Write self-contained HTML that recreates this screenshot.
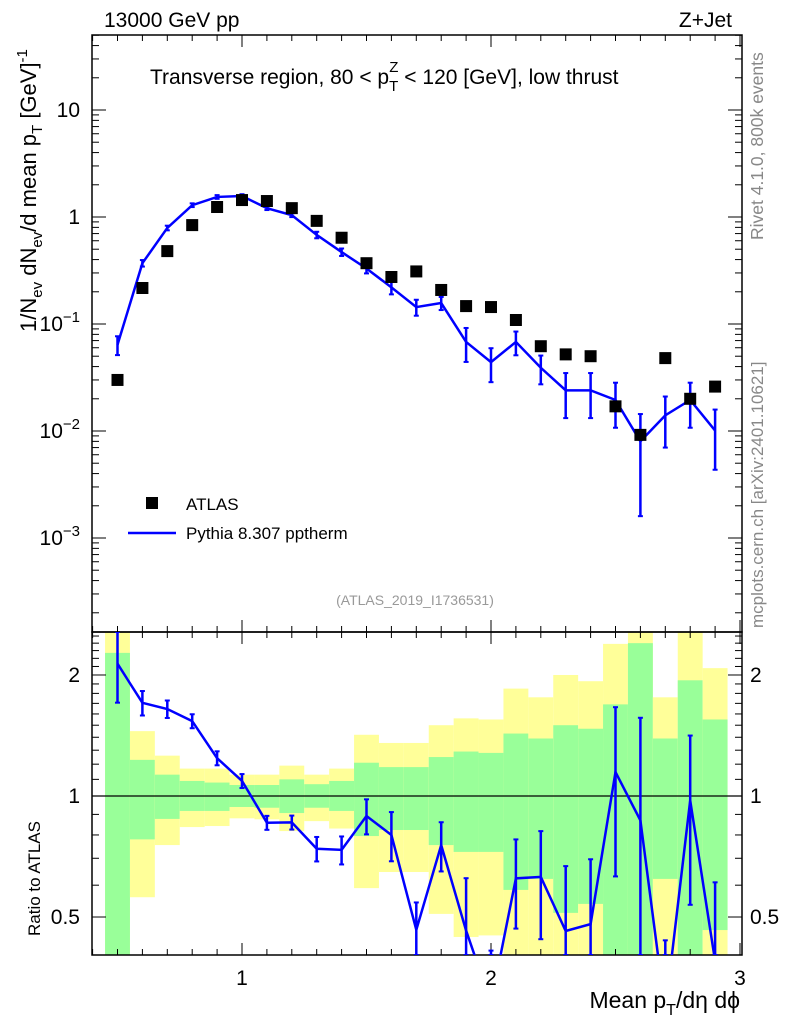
<!DOCTYPE html>
<html><head><meta charset="utf-8"><style>
html,body{margin:0;background:#fff;overflow:hidden;width:786px;height:1024px}
svg{display:block;font-family:"Liberation Sans",sans-serif}
</style></head><body>
<div style="position:relative;width:786px;height:1024px;overflow:hidden">
<svg id="c" width="786" height="1024" viewBox="0 0 786 1024" style="position:absolute;left:0;top:0"></svg>
<svg width="786" height="1024" style="position:absolute;left:0;top:0;font-family:'Liberation Sans',sans-serif">
<text x="104" y="27" font-size="21">13000 GeV pp</text>
<text x="732" y="27" font-size="21" text-anchor="end">Z+Jet</text>
<text x="150" y="84" font-size="21">Transverse region, 80 &lt; p<tspan dy="7" font-size="15">T</tspan><tspan dy="-19" dx="-9" font-size="15">Z</tspan><tspan dy="12"> &lt; 120 [GeV], low thrust</tspan></text>
<g transform="translate(36,332) rotate(-90)"><text x="0" y="0" font-size="22">1/N<tspan dy="6" font-size="15">ev</tspan><tspan dy="-6"> dN</tspan><tspan dy="6" font-size="15">ev</tspan><tspan dy="-6">/d mean p</tspan><tspan dy="6" font-size="15">T</tspan><tspan dy="-6"> [GeV]</tspan><tspan dy="-9" font-size="15">-1</tspan></text></g>
<g transform="translate(40,936) rotate(-90)"><text x="0" y="0" font-size="17">Ratio to ATLAS</text></g>
<text x="740" y="1008" font-size="23" text-anchor="end">Mean p<tspan dy="7" font-size="16">T</tspan><tspan dy="-7">/dη dϕ</tspan></text>
<g transform="translate(763,240) rotate(-90)"><text font-size="17.5" fill="#888">Rivet 4.1.0,  800k events</text></g>
<g transform="translate(763,628) rotate(-90)"><text font-size="17" fill="#888">mcplots.cern.ch [arXiv:2401.10621]</text></g>
<text x="415" y="605" font-size="14" fill="#999" text-anchor="middle">(ATLAS_2019_I1736531)</text>
<rect x="146" y="497" width="12" height="12" fill="#000"/>
<text x="186" y="510" font-size="17">ATLAS</text>
<line x1="128" x2="176" y1="533" y2="533" stroke="#0000ff" stroke-width="2.5"/>
<text x="186" y="539" font-size="17">Pythia 8.307 pptherm</text>
</svg>
</div>
<script>
const xs=[0.5,0.6,0.7,0.8,0.9,1.0,1.1,1.2,1.3,1.4,1.5,1.6,1.7,1.8,1.9,2.0,2.1,2.2,2.3,2.4,2.5,2.6,2.7,2.8,2.9];
const atlas=[0.030,0.217,0.48,0.84,1.24,1.44,1.41,1.21,0.92,0.64,0.37,0.275,0.31,0.208,0.147,0.144,0.109,0.062,0.052,0.050,0.017,0.0092,0.048,0.020,0.026];
const pythia=[0.064,0.37,0.79,1.29,1.54,1.57,1.21,1.04,0.68,0.47,0.33,0.22,0.144,0.157,0.068,0.044,0.068,0.039,0.024,0.024,0.0195,0.0080,0.014,0.0195,0.0101];
const pyErr=[0.2,0.07,0.05,0.04,0.04,0.04,0.04,0.04,0.07,0.08,0.1,0.14,0.17,0.14,0.35,0.35,0.25,0.3,0.45,0.45,0.45,0.8,0.5,0.45,0.57];
const yUp=[3,1.45,1.26,1.17,1.17,1.13,1.13,1.19,1.13,1.17,1.42,1.355,1.355,1.50,1.56,1.55,1.85,1.76,2.0,1.93,2.39,3,1.76,3,2.08];
const gUp=[2.27,1.23,1.13,1.09,1.08,1.065,1.065,1.10,1.07,1.09,1.21,1.18,1.18,1.25,1.29,1.28,1.43,1.39,1.50,1.47,1.69,2.40,1.39,1.94,1.55];
const gDn=[0.3,0.78,0.877,0.918,0.918,0.939,0.935,0.907,0.935,0.918,0.795,0.823,0.823,0.755,0.726,0.726,0.584,0.622,0.512,0.539,0.3,0.3,0.622,0.3,0.464];
const yDn=[0.3,0.56,0.755,0.837,0.842,0.88,0.875,0.818,0.866,0.83,0.59,0.647,0.647,0.509,0.446,0.45,0.3,0.3,0.3,0.3,0.3,0.3,0.3,0.3,0.3];
const mainTicks=[1,0,-1,-2,-3];
const ratioTicks=[2,1,0.5];
const xTicks=[1,2,3];

const NS="http://www.w3.org/2000/svg",svg=document.getElementById('c');
const L=92,R=742,T=35,MB=632,RB=955;
const X=v=>242+(v-1)*249;
const Y=v=>217-Math.log10(v)*107;
const YR=v=>796-Math.log10(v)*402;
const cl=(y,a,b)=>Math.max(a,Math.min(b,y));
function el(t,a,p){const e=document.createElementNS(NS,t);for(const k in a)e.setAttribute(k,a[k]);(p||svg).appendChild(e);return e;}
function txt(x,y,s,a){const e=el('text',Object.assign({x:x,y:y},a||{}));e.innerHTML=s;return e;}
const clipM=el('clipPath',{id:'cm'});el('rect',{x:L,y:T,width:R-L,height:MB-T},clipM);
const clipR=el('clipPath',{id:'cr'});el('rect',{x:L,y:MB,width:R-L,height:RB-MB},clipR);

const gb=el('g',{'clip-path':'url(#cr)'});


xs.forEach((v,i)=>{
  const x0=X(v-0.05),w=X(v+0.05)-x0;
  const yt=cl(YR(yUp[i]),MB,RB),yb=cl(YR(yDn[i]),MB,RB);
  const y=el('rect',{x:x0,y:yt,width:w,height:yb-yt,fill:'#ffff99'},gb);
  
  
  const gt=cl(YR(gUp[i]),MB,RB),gbb=cl(YR(gDn[i]),MB,RB);
  const g=el('rect',{x:x0,y:gt,width:w,height:gbb-gt,fill:'#99ff99'},gb);
  
  
});
el('line',{x1:L,x2:R,y1:YR(1),y2:YR(1),stroke:'#000','stroke-width':1.2});

el('rect',{x:L,y:T,width:R-L,height:MB-T,fill:'none',stroke:'#000','stroke-width':1.5,});
el('rect',{x:L,y:MB,width:R-L,height:RB-MB,fill:'none',stroke:'#000','stroke-width':1.5,});

for(let k=4;k<=30;k++){const v=k/10,x=X(v),maj=(k%10==0),len=maj?12:6;
  [[T,1],[MB,-1],[MB,1],[RB,-1]].forEach(([y0,d])=>el('line',{x1:x,x2:x,y1:y0,y2:y0+d*len,stroke:'#000','stroke-width':1}));}
xTicks.forEach(v=>{const t=txt(X(v),985,String(v),{'font-size':21,'text-anchor':'middle'});
  });
for(let d=-4;d<=1;d++)for(let m=1;m<=9;m++){const v=m*Math.pow(10,d);const y=Y(v);if(y<T||y>MB)continue;const len=m==1?14:7;
  el('line',{x1:L,x2:L+len,y1:y,y2:y,stroke:'#000'});el('line',{x1:R,x2:R-len,y1:y,y2:y,stroke:'#000'});}
mainTicks.forEach(p=>{const y=Y(Math.pow(10,p))+7;let t;
  if(p==1)t=txt(80,y,'10',{'font-size':21,'text-anchor':'end'});
  else if(p==0)t=txt(80,y,'1',{'font-size':21,'text-anchor':'end'});
  else t=txt(80,y,'10<tspan dy="-9" font-size="15">'+(p==-1?'−1':p==-2?'−2':'−3')+'</tspan>',{'font-size':21,'text-anchor':'end'});
  });
for(let v=0.4;v<=2.6;v+=0.1){const vv=Math.round(v*10)/10,y=YR(vv);if(y<MB||y>RB)continue;const maj=(vv==0.5||vv==1||vv==2);const len=maj?14:7;
  el('line',{x1:L,x2:L+len,y1:y,y2:y,stroke:'#000'});el('line',{x1:R,x2:R-len,y1:y,y2:y,stroke:'#000'});}
ratioTicks.forEach(v=>{[[80,'end'],[750,'start']].forEach(([x,a])=>{const t=txt(x,YR(v)+7,String(v),{'font-size':21,'text-anchor':a});
  });});

const gm=el('g',{'clip-path':'url(#cm)'});


el('polyline',{points:xs.map((v,i)=>X(v)+','+Y(pythia[i])).join(' '),fill:'none',stroke:'#0000ff','stroke-width':2.5},gm);
xs.forEach((v,i)=>{const x=X(v),y1=cl(Y(pythia[i]*(1+pyErr[i])),T,MB),y2=cl(Y(Math.max(pythia[i]*(1-pyErr[i]),1e-6)),T,MB);
  el('line',{x1:x,x2:x,y1:y1,y2:y2,stroke:'#0000ff','stroke-width':2.5},gm);
  el('line',{x1:x-2.5,x2:x+2.5,y1:y1,y2:y1,stroke:'#0000ff','stroke-width':2},gm);
  el('line',{x1:x-2.5,x2:x+2.5,y1:y2,y2:y2,stroke:'#0000ff','stroke-width':2},gm);});
xs.forEach((v,i)=>{const r=el('rect',{x:X(v)-6,y:Y(atlas[i])-6,width:12,height:12,fill:'#000'});
  });

const gr=el('g',{'clip-path':'url(#cr)'});


const rat=xs.map((v,i)=>pythia[i]/atlas[i]);
el('polyline',{points:xs.map((v,i)=>X(v)+','+cl(YR(rat[i]),0,1020)).join(' '),fill:'none',stroke:'#0000ff','stroke-width':2.5},gr);
xs.forEach((v,i)=>{const x=X(v),y1=cl(YR(rat[i]*(1+pyErr[i])),MB,RB),y2=cl(YR(Math.max(rat[i]*(1-pyErr[i]),1e-3)),MB,RB);
  el('line',{x1:x,x2:x,y1:y1,y2:y2,stroke:'#0000ff','stroke-width':2.5},gr);
  el('line',{x1:x-2.5,x2:x+2.5,y1:y1,y2:y1,stroke:'#0000ff','stroke-width':2},gr);
  el('line',{x1:x-2.5,x2:x+2.5,y1:y2,y2:y2,stroke:'#0000ff','stroke-width':2},gr);});
</script>
</body></html>
